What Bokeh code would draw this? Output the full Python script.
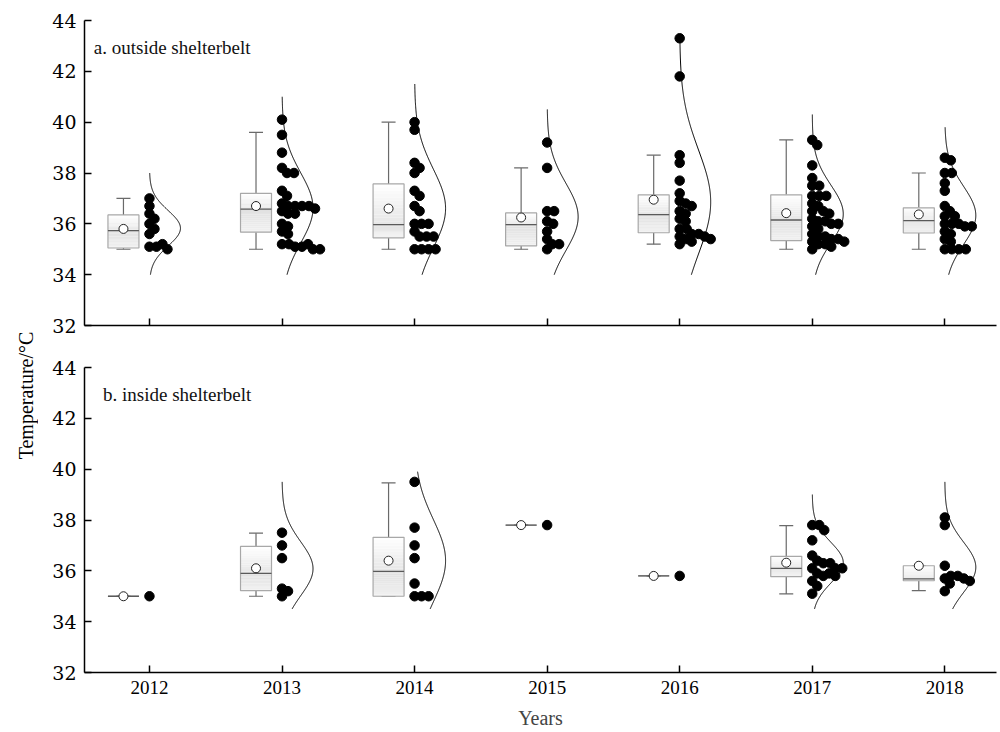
import numpy as np
from bokeh.plotting import figure
from bokeh.models import FixedTicker, Label, Range1d
from bokeh.layouts import row, column
from bokeh.embed import file_html
from bokeh.resources import INLINE
from bokeh.core.properties import value

# ---------------- data ----------------
years = [2012, 2013, 2014, 2015, 2016, 2017, 2018]
year_labels = ["2012", "2013", "2014", "2015", "2016", "2017", "2018"]
y_ticks = [32, 34, 36, 38, 40, 42, 44]

# a. outside shelterbelt – observed values
out_2012 = [37.0, 36.7, 36.4, 36.2, 36.0, 35.8, 35.6, 35.1, 35.1, 35.2, 35.0]
out_2013 = [40.1, 39.5, 38.8, 38.2, 38.0, 38.0, 37.3, 37.1, 36.8, 36.7, 36.7, 36.7, 36.7, 36.6,
            36.5, 36.4, 36.4, 36.0, 35.9, 35.7, 35.6, 35.2, 35.2, 35.1, 35.1, 35.2, 35.0, 35.0]
out_2014 = [40.0, 39.7, 38.4, 38.2, 38.0, 37.3, 37.1, 36.7, 36.5, 36.0, 36.0, 36.0, 35.7, 35.5,
            35.5, 35.5, 35.0, 35.0, 35.0, 35.0]
out_2015 = [39.2, 38.2, 36.5, 36.5, 36.1, 36.0, 35.7, 35.4, 35.2, 35.2, 35.0]
out_2016 = [43.3, 41.8, 38.7, 38.4, 37.7, 37.2, 36.9, 36.8, 36.7, 36.5, 36.4, 36.2, 36.1, 35.8,
            35.8, 35.6, 35.6, 35.5, 35.5, 35.4, 35.4, 35.3, 35.2]
out_2017 = [39.3, 39.1, 38.3, 37.8, 37.5, 37.5, 37.1, 37.1, 37.1, 36.8, 36.7, 36.5, 36.5, 36.4,
            36.2, 36.1, 36.1, 36.0, 36.0, 35.9, 35.8, 35.6, 35.5, 35.5, 35.4, 35.4, 35.3, 35.3,
            35.2, 35.2, 35.1, 35.0]
out_2018 = [38.6, 38.5, 38.0, 38.0, 37.6, 37.3, 36.7, 36.5, 36.3, 36.3, 36.0, 36.0, 36.0, 35.9,
            35.9, 35.7, 35.6, 35.4, 35.3, 35.0, 35.0, 35.0, 35.0]

# box statistics (outside)
out_q1 = [35.05, 35.67, 35.45, 35.13, 35.65, 35.34, 35.64]
out_med = [35.73, 36.58, 35.97, 35.97, 36.36, 36.15, 36.13]
out_q3 = [36.35, 37.2, 37.57, 36.43, 37.14, 37.14, 36.63]
out_wlo = [35.0, 35.0, 35.0, 35.0, 35.2, 35.0, 35.0]
out_whi = [37.0, 39.6, 40.0, 38.2, 38.7, 39.3, 38.0]
out_mean = [35.8, 36.7, 36.6, 36.25, 36.95, 36.42, 36.37]
out_curve_top = [38.0, 41.0, 41.5, 40.5, 43.3, 40.3, 39.8]
out_curve_bottom = 34.0

# b. inside shelterbelt – observed values
in_2012 = [35.0]
in_2013 = [37.5, 37.0, 36.5, 35.0, 35.3, 35.2]
in_2014 = [39.5, 37.7, 37.0, 36.5, 35.5, 35.0, 35.0, 35.0]
in_2015 = [37.8]
in_2016 = [35.8]
in_2017 = [37.8, 37.8, 37.6, 37.2, 36.6, 36.4, 36.3, 36.3, 36.1, 36.1, 36.1, 35.9, 35.8, 35.9,
           35.6, 35.8, 35.4, 35.1]
in_2018 = [38.1, 37.8, 36.2, 35.7, 35.8, 35.5, 35.8, 35.7, 35.6, 35.2]

in_q1 = [35.0, 35.22, 35.0, 37.8, 35.8, 35.77, 35.61]
in_med = [35.0, 35.9, 35.98, 37.8, 35.8, 36.1, 35.68]
in_q3 = [35.0, 36.96, 37.32, 37.8, 35.8, 36.57, 36.2]
in_wlo = [35.0, 35.0, 35.0, 37.8, 35.8, 35.09, 35.22]
in_whi = [35.0, 37.48, 39.46, 37.8, 35.8, 37.78, 36.2]
in_mean = [35.0, 36.1, 36.4, 37.8, 35.8, 36.32, 36.2]
in_curve_top = [None, 39.5, 39.9, None, None, 39.0, 39.5]
in_curve_bottom = 34.5

out_points = [out_2012, out_2013, out_2014, out_2015, out_2016, out_2017, out_2018]
in_points = [in_2012, in_2013, in_2014, in_2015, in_2016, in_2017, in_2018]

# ---------------- layout constants ----------------
LABEL_W = 38
FIG_W = 960
BORDER_L = 46
BORDER_R = 2
FRAME_H = 305
X_START, X_END = 2011.51, 2018.39
Y_START, Y_END = 32, 44
PX = (FIG_W - BORDER_L - BORDER_R) / (X_END - X_START)   # px per x unit
PY = FRAME_H / (Y_END - Y_START)                          # px per y unit

SERIF = "Liberation Serif"
NUMFONT = "DejaVu Serif"


def mix(c1, c2, t):
    a = [int(c1[i:i + 2], 16) for i in (1, 3, 5)]
    b = [int(c2[i:i + 2], 16) for i in (1, 3, 5)]
    return "#%02x%02x%02x" % tuple(int(round(a[k] + (b[k] - a[k]) * t)) for k in range(3))


def swarm(vals, tick, dmin=6.5):
    placed = []
    xs = []
    for v in vals:
        yp = v * PY
        k = 0
        while True:
            xp = float(k)
            if all((xp - a) ** 2 + (yp - b) ** 2 >= dmin ** 2 for a, b in placed):
                break
            k += 1
        placed.append((xp, yp))
        xs.append(tick + xp / PX)
    return xs


def make_panel(points, q1, med, q3, wlo, whi, mean, ctop, cbot, title, bottom, height,
               border_top, border_bottom):
    p = figure(width=FIG_W, height=height, x_range=Range1d(X_START, X_END),
               y_range=Range1d(Y_START, Y_END), toolbar_location=None,
               output_backend="svg", min_border_left=BORDER_L, min_border_right=BORDER_R,
               min_border_top=border_top, min_border_bottom=border_bottom, title=None)
    p.outline_line_color = None
    p.grid.visible = False
    p.background_fill_color = "white"

    box_off = -26 / PX
    box_w = 31 / PX
    cap_w = 14 / PX
    amp = 31 / PX

    for i, yr in enumerate(years):
        xc = yr + box_off
        # whiskers
        p.segment(x0=[xc, xc], y0=[q3[i], q1[i]], x1=[xc, xc], y1=[whi[i], wlo[i]],
                  line_color="#6a6a6a", line_width=1.2)
        p.segment(x0=[xc - cap_w / 2, xc - cap_w / 2], y0=[whi[i], wlo[i]],
                  x1=[xc + cap_w / 2, xc + cap_w / 2], y1=[whi[i], wlo[i]],
                  line_color="#6a6a6a", line_width=1.2)
        # gradient box fill
        n = 12
        if q3[i] > q1[i]:
            up = np.linspace(med[i], q3[i], n + 1)
            lo = np.linspace(q1[i], med[i], n + 1)
            cols_up = [mix("#e6e6e6", "#ffffff", (k + 0.5) / n) for k in range(n)]
            cols_lo = [mix("#f1f1f1", "#e0e0e0", (k + 0.5) / n) for k in range(n)]
            p.quad(left=[xc - box_w / 2] * n, right=[xc + box_w / 2] * n,
                   bottom=list(up[:-1]), top=list(up[1:]), fill_color=cols_up,
                   line_color=None)
            p.quad(left=[xc - box_w / 2] * n, right=[xc + box_w / 2] * n,
                   bottom=list(lo[:-1]), top=list(lo[1:]), fill_color=cols_lo,
                   line_color=None)
        p.quad(left=[xc - box_w / 2], right=[xc + box_w / 2], bottom=[q1[i]], top=[q3[i]],
               fill_color=None, line_color="#a8a8a8", line_width=1.2)
        p.segment(x0=[xc - box_w / 2], y0=[med[i]], x1=[xc + box_w / 2], y1=[med[i]],
                  line_color="#5a5a5a", line_width=1.3)
        p.scatter(x=[xc], y=[mean[i]], size=9, marker="circle", fill_color="white",
                  line_color="#222222", line_width=1)

        # distribution curve
        vals = np.array(points[i])
        if ctop[i] is not None and len(vals) > 1:
            mu = vals.mean()
            sd = vals.std(ddof=1)
            ys = np.linspace(cbot, ctop[i], 240)
            xs = yr + amp * np.exp(-0.5 * ((ys - mu) / sd) ** 2)
            p.line(x=xs, y=ys, line_color="black", line_width=1)

        # points
        xs = swarm(points[i], yr)
        p.scatter(x=xs, y=points[i], size=9.5, marker="circle", fill_color="black",
                  line_color="black")

    p.add_layout(Label(x=X_START + (0.07 if not bottom else 0.14), y=42.95, text=title,
                       text_font=SERIF, text_font_size="19px", text_align="left",
                       text_baseline="middle", text_color="#111111"))

    for ax in (p.xaxis[0], p.yaxis[0]):
        ax.axis_line_color = "black"
        ax.axis_line_width = 1.5
        ax.major_tick_line_color = "black"
        ax.major_tick_line_width = 1.5
        ax.major_tick_in = 7
        ax.major_tick_out = 0
        ax.minor_tick_line_color = None

    p.yaxis.ticker = FixedTicker(ticks=y_ticks)
    p.yaxis.major_label_text_font = NUMFONT
    p.yaxis.major_label_text_font_size = "19px"
    p.yaxis.major_label_text_color = "black"
    p.yaxis.major_label_standoff = 8

    p.xaxis.ticker = FixedTicker(ticks=years)
    if bottom:
        p.xaxis.major_label_overrides = {y: s for y, s in zip(years, year_labels)}
        p.xaxis.major_label_text_font = SERIF
        p.xaxis.major_label_text_font_size = "19px"
        p.xaxis.major_label_text_color = "black"
        p.xaxis.major_label_standoff = 8
        p.xaxis.axis_label = "Years"
        p.xaxis.axis_label_text_font = SERIF
        p.xaxis.axis_label_text_font_size = "20px"
        p.xaxis.axis_label_text_font_style = "normal"
        p.xaxis.axis_label_standoff = 10
    else:
        p.xaxis.major_label_overrides = {y: "" for y in years}
        p.xaxis.major_label_standoff = 0
    return p


top = make_panel(out_points, out_q1, out_med, out_q3, out_wlo, out_whi, out_mean,
                 out_curve_top, out_curve_bottom, "a. outside shelterbelt", False,
                 height=20 + FRAME_H + 30, border_top=20, border_bottom=30)
bot = make_panel(in_points, in_q1, in_med, in_q3, in_wlo, in_whi, in_mean,
                 in_curve_top, in_curve_bottom, "b. inside shelterbelt", True,
                 height=12 + FRAME_H + 60, border_top=12, border_bottom=60)

total_h = top.height + bot.height
lab = figure(width=LABEL_W, height=total_h, x_range=Range1d(0, LABEL_W),
             y_range=Range1d(0, total_h), toolbar_location=None, output_backend="svg",
             min_border=0, title=None, x_axis_type=None, y_axis_type=None)
lab.grid.visible = False
lab.outline_line_color = None
lab.text(x=[25], y=[total_h - 395], text=["Temperature/°C"], angle=np.pi / 2,
         text_align="center", text_baseline="middle", text_font=value(SERIF),
         text_font_size="20px", text_color="black")

layout = row(lab, column(top, bot))
open("out.html", "w").write(file_html(layout, INLINE))
